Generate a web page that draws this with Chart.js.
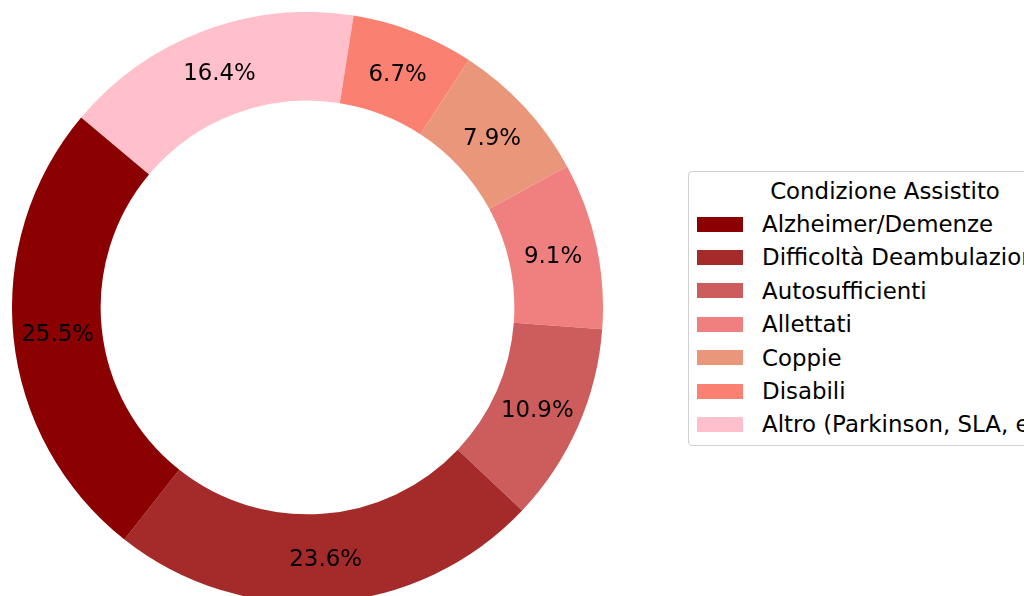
<!DOCTYPE html>
<html>
<head>
<meta charset="utf-8">
<script src="https://cdn.jsdelivr.net/npm/chart.js@4/dist/chart.umd.min.js"></script>
<style>
  html, body { margin: 0; padding: 0; width: 1024px; height: 596px; overflow: hidden; background: #ffffff; }
  #wrap { position: absolute; left: 12px; top: 12px; width: 591px; height: 591px; }
  #legend { position: absolute; left: 688px; top: 171px; width: 380px; height: 273px;
            border: 1.5px solid #d0d0d0; border-radius: 4px; background: #fff;
            font-family: "DejaVu Sans", sans-serif; font-size: 22.9px; color: #000; }
  .ltitle { position: absolute; left: 0; width: 392px; top: 0px; height: 36px; line-height: 36px; text-align: center; white-space: nowrap; }
  .lrow { position: absolute; left: 0; height: 34px; line-height: 34px; white-space: nowrap; }
  .lbox { position: absolute; left: 8px; width: 46px; height: 15px; }
  .ltext { position: absolute; left: 73px; top: 0; }
</style>
</head>
<body>
<div id="wrap"><canvas id="c"></canvas></div>
<div id="legend"></div>
<script>
const categories = ['Alzheimer/Demenze', 'Difficoltà Deambulazione', 'Autosufficienti', 'Allettati', 'Coppie', 'Disabili', 'Altro (Parkinson, SLA, ecc.)'];
const values = [25.5, 23.6, 10.9, 9.1, 7.9, 6.7, 16.4];
const colors = ['#8B0000', '#A52A2A', '#CD5C5C', '#F08080', '#E9967A', '#FA8072', '#FFC0CB'];
const legendTitle = 'Condizione Assistito';

// matplotlib draws counter-clockwise; Chart.js draws clockwise, so reverse order
const dLabels = categories.slice().reverse();
const dValues = values.slice().reverse();
const dColors = colors.slice().reverse();
const total = values.reduce((a, b) => a + b, 0);

const pctPlugin = {
  id: 'pctLabels',
  afterDatasetsDraw(chart) {
    const ctx = chart.ctx;
    const meta = chart.getDatasetMeta(0);
    ctx.save();
    ctx.font = '22.9px "DejaVu Sans"';
    ctx.fillStyle = '#000';
    ctx.textAlign = 'center';
    ctx.textBaseline = 'alphabetic';
    meta.data.forEach((arc, i) => {
      const p = arc.getProps(['x', 'y', 'startAngle', 'endAngle', 'outerRadius'], true);
      const mid = (p.startAngle + p.endAngle) / 2;
      const r = p.outerRadius * 0.85;
      const x = p.x + Math.cos(mid) * r;
      const y = p.y + Math.sin(mid) * r;
      const txt = (dValues[i] / total * 100).toFixed(1) + '%';
      ctx.fillText(txt, x, y + 8);
    });
    ctx.restore();
  }
};

new Chart(document.getElementById('c'), {
  type: 'doughnut',
  data: {
    labels: dLabels,
    datasets: [{ data: dValues, backgroundColor: dColors, borderWidth: 0, hoverOffset: 0 }]
  },
  options: {
    responsive: true,
    maintainAspectRatio: false,
    animation: false,
    rotation: -50,
    cutout: '70%',
    layout: { padding: 0 },
    plugins: { legend: { display: false }, tooltip: { enabled: false } },
    events: []
  },
  plugins: [pctPlugin]
});

// legend
const lg = document.getElementById('legend');
const t = document.createElement('div');
t.className = 'ltitle';
t.textContent = legendTitle;
t.style.top = '1px';
lg.appendChild(t);
categories.forEach((c, i) => {
  const row = document.createElement('div');
  row.className = 'lrow';
  row.style.top = (35 + i * 33.4) + 'px';
  const box = document.createElement('div');
  box.className = 'lbox';
  box.style.background = colors[i];
  box.style.top = '9.5px';
  const tx = document.createElement('div');
  tx.className = 'ltext';
  tx.textContent = c;
  row.appendChild(box);
  row.appendChild(tx);
  lg.appendChild(row);
});
</script>
</body>
</html>
